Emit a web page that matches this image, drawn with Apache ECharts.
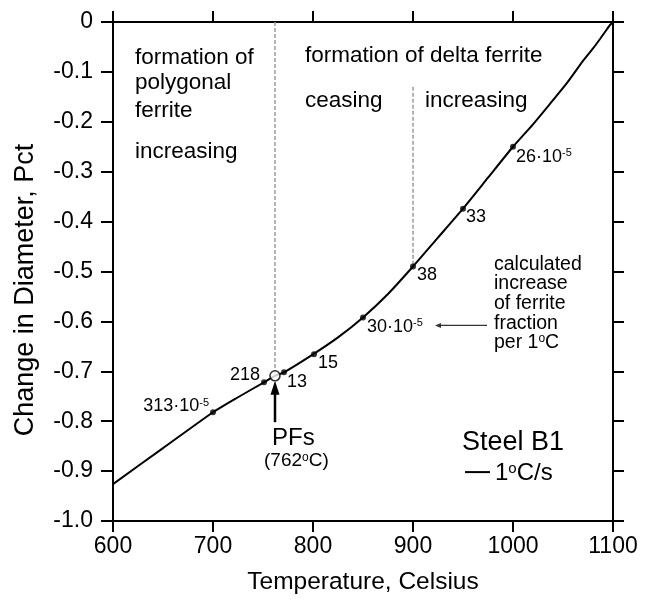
<!DOCTYPE html>
<html><head><meta charset="utf-8">
<script src="https://cdn.jsdelivr.net/npm/echarts@6/dist/echarts.min.js"></script>
<style>html,body{margin:0;padding:0;background:#fff}#c{width:655px;height:600px}</style>
</head><body><div id="c"></div>
<script>
// ---- data ----
const curveT = [600, 650, 700, 725, 751, 762, 771, 800, 825, 850, 875, 900, 925, 950, 975, 1000, 1020, 1037, 1054, 1070, 1080, 1087, 1093, 1097, 1100];
const curveD = [-0.926, -0.854, -0.782, -0.752, -0.722, -0.709, -0.702, -0.666, -0.632, -0.592, -0.545, -0.49, -0.432, -0.374, -0.312, -0.25, -0.205, -0.164, -0.122, -0.078, -0.053, -0.034, -0.017, -0.006, 0];
const markT = [700, 751, 771, 801, 850, 900, 950, 1000];
const markD = [-0.782, -0.722, -0.702, -0.666, -0.592, -0.49, -0.374, -0.25];
const markLabels = ['313·10{s|-5}', '218', '13', '15', '30·10{s|-5}', '38', '33', '26·10{s|-5}'];
const pfT = [762];
const pfD = [-0.709];
const pfDashT = [762, 762];
const pfDashD = [0, -0.703];
const deltaDashT = [900, 900];
const deltaDashD = [-0.13, -0.49];
const xTicks = [600, 700, 800, 900, 1000, 1100];
const yTicks = [0, -0.1, -0.2, -0.3, -0.4, -0.5, -0.6, -0.7, -0.8, -0.9, -1.0];
const xTitle = 'Temperature, Celsius';
const yTitle = 'Change in Diameter, Pct';

// ---- layout (pixel offsets / annotation anchors in data space) ----
const markLabelLayout = [
  {dx: -4, dy: -6, align: 'right'},
  {dx: -4, dy: -7.5, align: 'right'},
  {dx: 3, dy: 9.5, align: 'left'},
  {dx: 4, dy: 8.5, align: 'left'},
  {dx: 4, dy: 9.5, align: 'left'},
  {dx: 4, dy: 9, align: 'left'},
  {dx: 3, dy: 8, align: 'left'},
  {dx: 3, dy: 10, align: 'left'}
];
const notes = [
  {t: 622, d: -0.072, text: 'formation of', size: 22.5},
  {t: 622, d: -0.122, text: 'polygonal', size: 22.5},
  {t: 622, d: -0.177, text: 'ferrite', size: 22.5},
  {t: 622, d: -0.261, text: 'increasing', size: 22.5},
  {t: 792, d: -0.068, text: 'formation of delta ferrite', size: 22.5},
  {t: 792, d: -0.157, text: 'ceasing', size: 22.5},
  {t: 912, d: -0.157, text: 'increasing', size: 22.5},
  {t: 981, d: -0.487, text: 'calculated', size: 19.5},
  {t: 981, d: -0.525, text: 'increase', size: 19.5},
  {t: 981, d: -0.565, text: 'of ferrite', size: 19.5},
  {t: 981, d: -0.605, text: 'fraction', size: 19.5},
  {t: 981, d: -0.643, text: 'per 1{s|o}C', size: 19.5},
  {t: 949, d: -0.842, text: 'Steel B1', size: 27},
  {t: 982, d: -0.904, text: '1{s|o}C/s', size: 24},
  {t: 759, d: -0.834, text: 'PFs', size: 24},
  {t: 751, d: -0.88, text: '(762{s|o}C)', size: 19}
];

const FONT = 'Liberation Sans, Arial, Helvetica, sans-serif';
const chart = echarts.init(document.getElementById('c'), null, {renderer: 'canvas'});

function zip(a, b) { return a.map((v, i) => [v, b[i]]); }

const axisCommon = {
  type: 'value',
  axisLine: {onZero: false, lineStyle: {color: '#000', width: 2}},
  axisTick: {length: 11, lineStyle: {color: '#000', width: 2}},
  splitLine: {show: false}
};

chart.setOption({
  animation: false,
  backgroundColor: '#fff',
  grid: {left: 113, right: 42, top: 22, bottom: 78},
  xAxis: [
    Object.assign({}, axisCommon, {
      min: xTicks[0], max: xTicks[xTicks.length - 1], interval: 100, position: 'bottom',
      axisLabel: {fontSize: 23, color: '#000', fontFamily: FONT, margin: 14, formatter: v => String(v)},
      name: xTitle, nameLocation: 'middle', nameGap: 49,
      nameTextStyle: {fontSize: 24.5, color: '#000', fontFamily: FONT}
    }),
    Object.assign({}, axisCommon, {
      min: xTicks[0], max: xTicks[xTicks.length - 1], interval: 100, position: 'top',
      axisLabel: {show: false}
    })
  ],
  yAxis: [
    Object.assign({}, axisCommon, {
      min: yTicks[yTicks.length - 1], max: yTicks[0], interval: 0.1, position: 'left',
      axisTick: {length: 12, lineStyle: {color: '#000', width: 2}},
      axisLabel: {fontSize: 23, color: '#000', fontFamily: FONT, margin: 20,
        formatter: v => Math.abs(v) < 1e-9 ? '0' : v.toFixed(1)}
    }),
    Object.assign({}, axisCommon, {
      min: yTicks[yTicks.length - 1], max: yTicks[0], interval: 0.1, position: 'right',
      axisLabel: {show: false}
    })
  ],
  series: [
    {type: 'line', data: zip(pfDashT, pfDashD), showSymbol: false, symbol: 'none',
      lineStyle: {color: '#9a9a9a', width: 1.5, type: [4, 2]}, z: 1, silent: true},
    {type: 'line', data: zip(deltaDashT, deltaDashD), showSymbol: false, symbol: 'none',
      lineStyle: {color: '#9a9a9a', width: 1.5, type: [4, 2]}, z: 1, silent: true},
    {type: 'line', data: zip(curveT, curveD), smooth: 0.2, showSymbol: false, symbol: 'none',
      lineStyle: {color: '#000', width: 2}, z: 2},
    {type: 'scatter', data: zip(markT, markD), symbolSize: 6, itemStyle: {color: '#000'}, z: 3},
    {type: 'scatter', data: zip(pfT, pfD), symbolSize: 10,
      itemStyle: {color: '#fff', borderColor: '#000', borderWidth: 1.6}, z: 4}
  ]
});

function px(t, d) { return chart.convertToPixel({xAxisIndex: 0, yAxisIndex: 0}, [t, d]); }
const supRich = size => ({s: {fontSize: Math.round(size * 0.62), fontFamily: FONT, fill: '#000', verticalAlign: 'top', padding: [0, 0, Math.round(size * 0.25), 0]}});

const g = [];
markT.forEach((t, i) => {
  const p = px(t, markD[i]);
  const L = markLabelLayout[i];
  g.push({type: 'text', z: 10, x: p[0] + L.dx, y: p[1] + L.dy,
    style: {text: markLabels[i], fontSize: 18, fontFamily: FONT, fill: '#000',
      align: L.align, verticalAlign: 'middle', rich: supRich(18)}});
});
notes.forEach(n => {
  const p = px(n.t, n.d);
  g.push({type: 'text', z: 10, x: p[0], y: p[1],
    style: {text: n.text, fontSize: n.size, fontFamily: FONT, fill: '#000',
      align: 'left', verticalAlign: 'middle', rich: supRich(n.size)}});
});

// y axis title (rotated), centred a little below the plot middle as in the reference
g.push({type: 'text', z: 10, x: 26, y: 290, rotation: Math.PI / 2,
  style: {text: yTitle, fontSize: 27, fontFamily: FONT, fill: '#000', align: 'center', verticalAlign: 'middle'}});

function arrow(t1, d1, t2, d2, headLen, headW, lw, color) {
  const a = px(t1, d1), b = px(t2, d2);
  const dx = b[0] - a[0], dy = b[1] - a[1];
  const len = Math.sqrt(dx * dx + dy * dy);
  const ux = dx / len, uy = dy / len;
  const bx = b[0] - ux * headLen, by = b[1] - uy * headLen;
  g.push({type: 'line', z: 9, shape: {x1: a[0], y1: a[1], x2: bx + ux, y2: by + uy},
    style: {stroke: color, lineWidth: lw}});
  g.push({type: 'polygon', z: 9, shape: {points: [
    [b[0], b[1]],
    [bx - uy * headW / 2, by + ux * headW / 2],
    [bx + uy * headW / 2, by - ux * headW / 2]]},
    style: {fill: color}});
}
arrow(762, -0.802, 762, -0.719, 14, 9, 2.5, '#000');
arrow(974, -0.608, 922, -0.608, 6, 5, 1.2, '#333');

// legend line sample
(function () {
  const a = px(952, -0.902), b = px(977, -0.902);
  g.push({type: 'line', z: 9, shape: {x1: a[0], y1: a[1], x2: b[0], y2: b[1]},
    style: {stroke: '#000', lineWidth: 2}});
})();

chart.setOption({graphic: g});
</script>
</body></html>
